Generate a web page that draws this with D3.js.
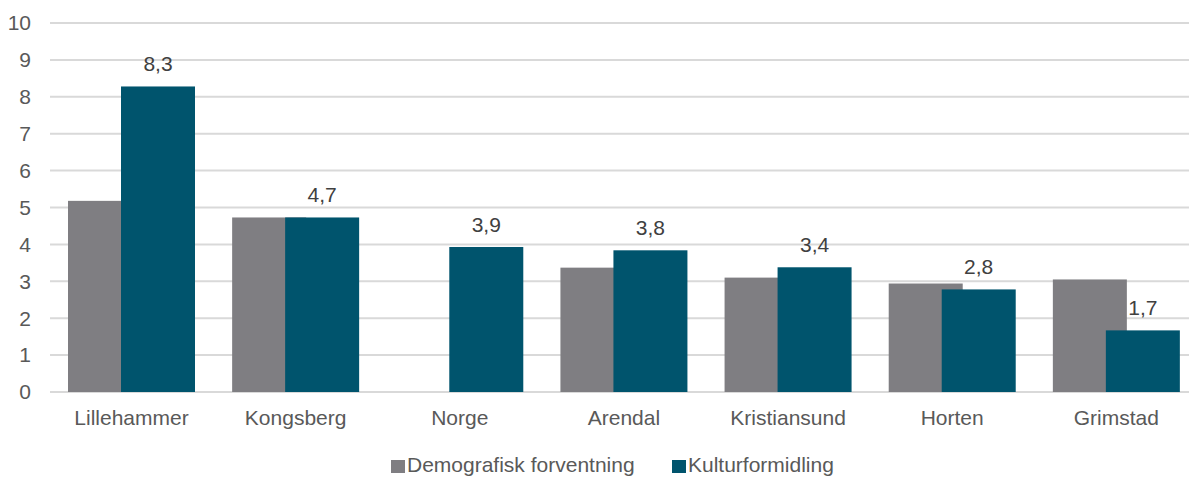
<!DOCTYPE html>
<html><head><meta charset="utf-8">
<script src="https://cdn.jsdelivr.net/npm/d3@7"></script>
<style>body{margin:0;background:#fff}svg{display:block;font-family:"Liberation Sans",Arial,sans-serif}</style>
</head><body><svg id="c" width="1189" height="477"></svg>
<script>
const categories = ["Lillehammer","Kongsberg","Norge","Arendal","Kristiansund","Horten","Grimstad"];
const demografisk = [5.18, 4.73, null, 3.37, 3.1, 2.94, 3.05];
const kultur = [8.28, 4.73, 3.93, 3.84, 3.38, 2.78, 1.67];
const seriesNames = ["Demografisk forventning","Kulturformidling"];
const yTicks = [0,1,2,3,4,5,6,7,8,9,10];

const svg = d3.select("#c");
const x = d3.scaleBand().domain(categories).range([50, 1199]).paddingInner(0).paddingOuter(0);
const y = d3.scaleLinear().domain([0,10]).range([392, 23]);
const gray = "#7f7e82", teal = "#00546d", txt = "#595959";
const barW = 74, offG = 18, offT = 71;
const fs = 21;

svg.append("g").selectAll("line").data(yTicks).join("line")
  .attr("x1", 50).attr("x2", 1189)
  .attr("y1", d => y(d)).attr("y2", d => y(d))
  .attr("stroke", "#d9d9d9").attr("stroke-width", 2);

svg.append("g").selectAll("text").data(yTicks).join("text")
  .attr("x", 31).attr("y", d => y(d)).attr("dy", "0.35em")
  .attr("text-anchor", "end").attr("font-size", fs).attr("fill", txt).text(d => d);

const gD = categories.map((c,i) => ({c, v: demografisk[i]})).filter(d => d.v != null);
svg.append("g").selectAll("rect").data(gD).join("rect")
  .attr("x", d => x(d.c) + offG).attr("width", barW)
  .attr("y", d => y(d.v)).attr("height", d => y(0) - y(d.v)).attr("fill", gray);

const kD = categories.map((c,i) => ({c, v: kultur[i]}));
svg.append("g").selectAll("rect").data(kD).join("rect")
  .attr("x", d => x(d.c) + offT).attr("width", barW)
  .attr("y", d => y(d.v)).attr("height", d => y(0) - y(d.v)).attr("fill", teal);

const fmt = v => d3.format(".1f")(v).replace(".", ",");
svg.append("g").selectAll("text").data(kD).join("text")
  .attr("x", d => x(d.c) + offT + barW/2).attr("y", d => y(d.v) - 15)
  .attr("text-anchor", "middle").attr("font-size", fs).attr("fill", "#404040").text(d => fmt(d.v));

svg.append("g").selectAll("text").data(categories).join("text")
  .attr("x", d => x(d) + offG + (offT + barW - offG)/2).attr("y", 425)
  .attr("text-anchor", "middle").attr("font-size", fs).attr("fill", txt).text(d => d);

const legend = [{n: seriesNames[0], c: gray, x: 391}, {n: seriesNames[1], c: teal, x: 672}];
const lg = svg.append("g").selectAll("g").data(legend).join("g");
lg.append("rect").attr("x", d => d.x).attr("y", 460).attr("width", 14).attr("height", 13).attr("fill", d => d.c);
lg.append("text").attr("x", d => d.x + 16).attr("y", 472).attr("font-size", fs).attr("fill", txt).text(d => d.n);
</script></body></html>
